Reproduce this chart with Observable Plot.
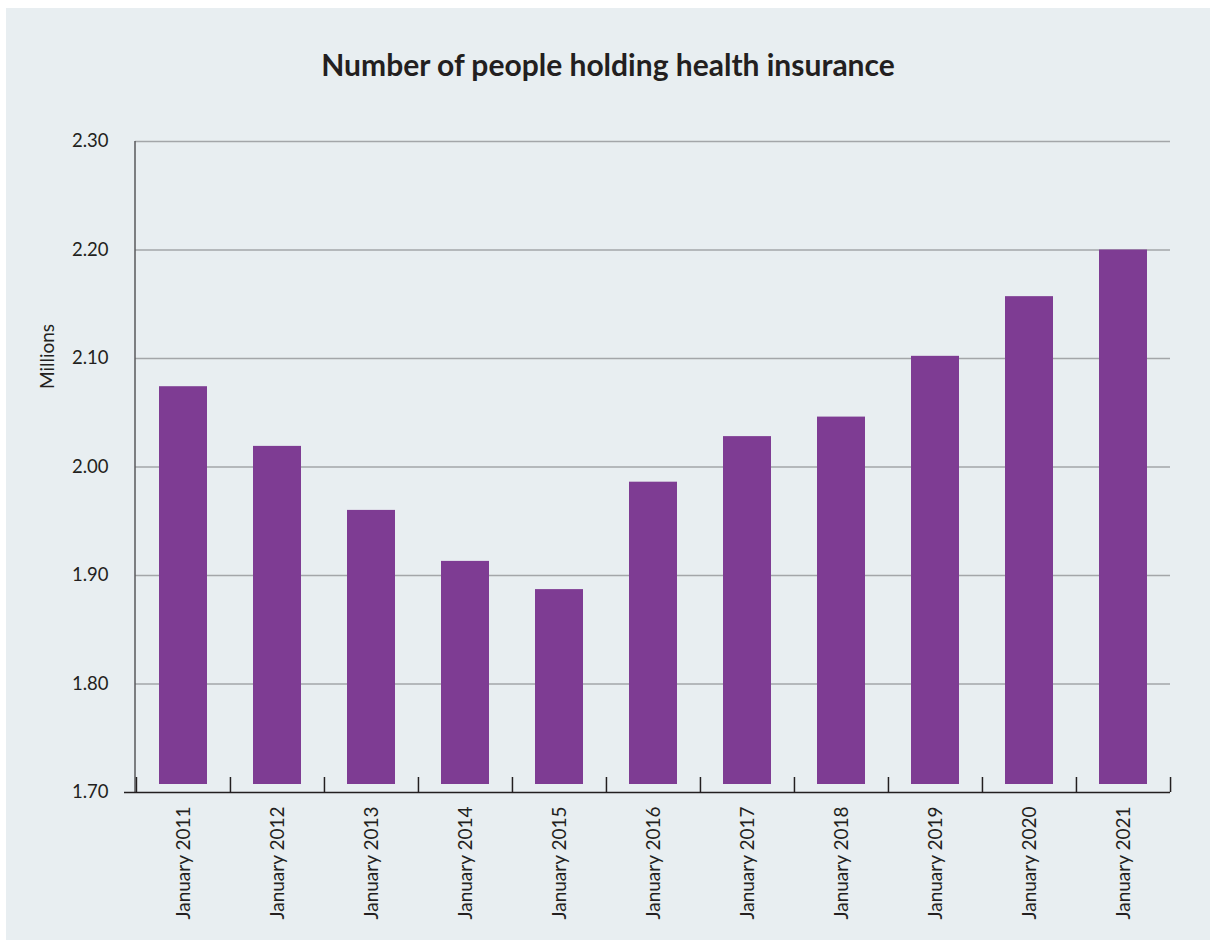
<!DOCTYPE html>
<html>
<head>
<meta charset="utf-8">
<script src="https://cdn.jsdelivr.net/npm/d3@7"></script>
<script src="https://cdn.jsdelivr.net/npm/@observablehq/plot@0.6"></script>
<style>
  html, body { margin: 0; padding: 0; background: #ffffff; }
  #panel { position: absolute; left: 6px; top: 8px; width: 1204px; height: 932px; background: #e8eef1; }
  #title { position: absolute; left: 0; top: 37px; width: 1204px; text-align: center;
           font-family: Lato, "Open Sans", sans-serif; font-weight: 700; font-size: 30px; color: #231f20; line-height: 38px; }
  #chart { position: absolute; left: 0; top: 92px; }
</style>
</head>
<body>
<div id="panel">
  <div id="title">Number of people holding health insurance</div>
  <div id="chart"></div>
</div>
<script>
const categories = ["January 2011","January 2012","January 2013","January 2014","January 2015","January 2016","January 2017","January 2018","January 2019","January 2020","January 2021"];
const values = [2.074, 2.019, 1.960, 1.913, 1.887, 1.986, 2.028, 2.046, 2.102, 2.157, 2.200];
const yTicks = [1.70, 1.80, 1.90, 2.00, 2.10, 2.20, 2.30];
const yLabel = "Millions";

const data = categories.map((c, i) => ({category: c, value: values[i]}));

const W = 1204, H = 840;
const mL = 129, mR = 40, mT = 41, mB = 148;
const pInner = 0.49, pOuter = 0.245;
const step = (W - mL - mR) / (categories.length - pInner + 2 * pOuter);

const yAxisLine = (index, scales, values, dims) => {
  const line = document.createElementNS("http://www.w3.org/2000/svg", "line");
  line.setAttribute("x1", dims.marginLeft);
  line.setAttribute("x2", dims.marginLeft);
  line.setAttribute("y1", dims.marginTop);
  line.setAttribute("y2", dims.height - dims.marginBottom);
  line.setAttribute("stroke", "#58595b");
  line.setAttribute("stroke-width", 1.5);
  return line;
};

const plot = Plot.plot({
  width: W,
  height: H,
  marginLeft: mL,
  marginRight: mR,
  marginTop: mT,
  marginBottom: mB,
  style: {fontFamily: "Lato, 'Open Sans', sans-serif", fontSize: "18px", color: "#231f20", background: "transparent", overflow: "visible"},
  x: {domain: categories, paddingInner: pInner, paddingOuter: pOuter},
  y: {domain: [1.70, 2.30]},
  marks: [
    Plot.ruleY(yTicks.slice(1), {stroke: "#a3a6a9", strokeWidth: 1.3}),
    Plot.barY(data, {x: "category", y1: 1.70, y2: "value", fill: "#7e3c93", insetBottom: 8}),
    yAxisLine,
    Plot.ruleY([1.70], {stroke: "#231f20", strokeWidth: 1.6, insetLeft: -11}),
    Plot.axisY({ticks: yTicks, tickFormat: d => d.toFixed(2), tickSize: 0, tickPadding: 27, label: null, fontSize: 18.5}),
    Plot.axisX({tickSize: 0, tickPadding: 14, tickRotate: -90, label: null, fontSize: 19}),
    Plot.axisX({tickSize: 15, dy: -15, dx: -step / 2, tickFormat: () => "", label: null, stroke: "#231f20", strokeWidth: 1.5}),
    Plot.axisX({ticks: [categories[categories.length - 1]], tickSize: 15, dy: -15, dx: step / 2, tickFormat: () => "", label: null, stroke: "#231f20", strokeWidth: 1.5}),
    Plot.text([yLabel], {text: d => d, frameAnchor: "left", textAnchor: "middle", lineAnchor: "middle", rotate: -90, dx: -88, dy: -110.5, fontSize: 19, fill: "#231f20"})
  ]
});
document.getElementById("chart").appendChild(plot);
</script>
</body>
</html>
